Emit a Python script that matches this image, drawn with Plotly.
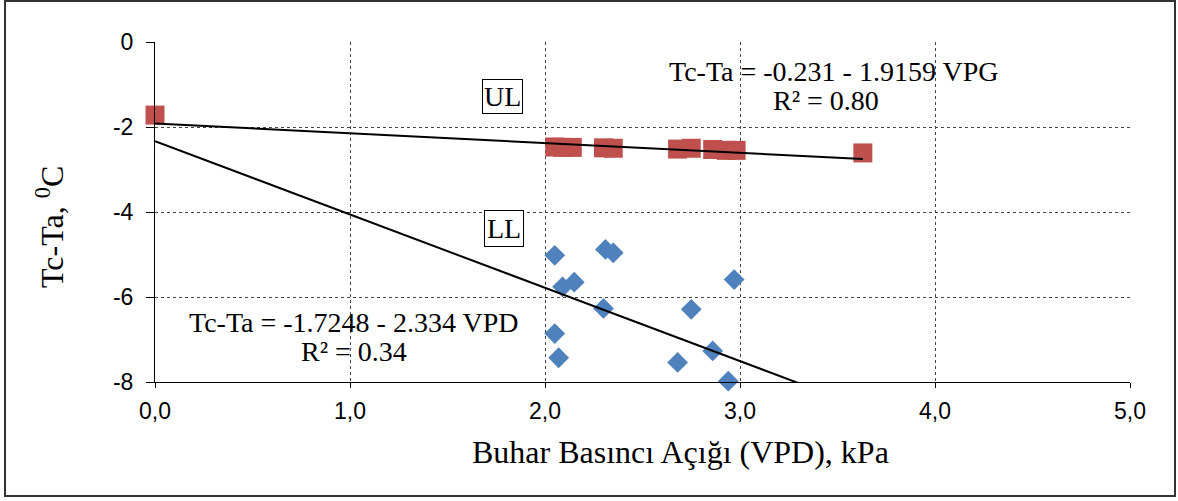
import plotly.graph_objects as go

# Upper limit (UL): canopy-air temperature difference vs vapour pressure deficit
ul_vpd = [0.0, 2.05, 2.09, 2.14, 2.30, 2.35, 2.68, 2.75, 2.86, 2.93, 2.98, 3.63]
ul_dt = [-1.72, -2.47, -2.48, -2.48, -2.49, -2.50, -2.52, -2.50, -2.53, -2.55, -2.55, -2.61]

# Lower limit (LL)
ll_vpd = [2.05, 2.31, 2.35, 2.09, 2.15, 2.97, 2.30, 2.75, 2.05, 2.07, 2.86, 2.68, 2.94]
ll_dt = [-5.02, -4.88, -4.96, -5.76, -5.65, -5.59, -6.27, -6.29, -6.86, -7.43, -7.27, -7.54, -7.98]

# Fitted lines: dT = intercept + slope * VPD
ul_intercept, ul_slope = -1.9159, -0.231
ll_intercept, ll_slope = -2.334, -1.7248
line_x = [0.0, 3.63]

ul_eq = ["Tc-Ta = -0.231 - 1.9159 VPG", "R² = 0.80"]
ll_eq = ["Tc-Ta = -1.7248 - 2.334 VPD", "R² = 0.34"]

x_ticks = [0, 1, 2, 3, 4, 5]
x_tick_text = ["0,0", "1,0", "2,0", "3,0", "4,0", "5,0"]
y_ticks = [0, -2, -4, -6, -8]
y_tick_text = ["0", "-2", "-4", "-6", "-8"]

serif = "Liberation Serif, Times New Roman, serif"
sans = "Liberation Sans, Arial, sans-serif"

fig = go.Figure()
fig.add_trace(go.Scatter(
    x=ul_vpd, y=ul_dt, mode="markers", cliponaxis=False,
    marker=dict(symbol="square", size=19, color="#C0504D",
                line=dict(width=0)),
))
fig.add_trace(go.Scatter(
    x=ll_vpd, y=ll_dt, mode="markers", cliponaxis=False,
    marker=dict(symbol="diamond", size=16, color="#4F81BD",
                line=dict(width=0)),
))
fig.add_trace(go.Scatter(
    x=line_x, y=[ul_intercept + ul_slope * v for v in line_x],
    mode="lines", line=dict(color="black", width=2),
))
fig.add_trace(go.Scatter(
    x=line_x, y=[ll_intercept + ll_slope * v for v in line_x],
    mode="lines", line=dict(color="black", width=2),
))


def label(x, y, text, **kw):
    return dict(x=x, y=y, text=text, showarrow=False,
                xanchor="center", yanchor="middle",
                font=dict(family=serif, size=28, color="#000000"), **kw)


annotations = [
    label(3.48, -0.69, ul_eq[0]),
    label(3.44, -1.37, ul_eq[1]),
    label(1.02, -6.60, ll_eq[0]),
    label(1.02, -7.28, ll_eq[1]),
    label(1.78, -1.28, "UL", bordercolor="black", borderwidth=1,
          borderpad=1, bgcolor="white"),
    label(1.79, -4.38, "LL", bordercolor="black", borderwidth=1,
          borderpad=2, bgcolor="white"),
    # axis titles
    dict(xref="paper", yref="paper", x=(680 - 155) / 975, y=(382 - 452) / 340,
         xanchor="center", yanchor="middle",
         text="Buhar Basıncı Açığı (VPD), kPa", showarrow=False,
         font=dict(family=serif, size=32, color="#000000")),
    dict(xref="paper", yref="paper", x=(50 - 155) / 975, y=(382 - 227) / 340,
         xanchor="center", yanchor="middle",
         text="Tc-Ta, <sup>0</sup>C", showarrow=False, textangle=-90,
         font=dict(family=serif, size=32, color="#000000")),
]

fig.update_layout(
    width=1178, height=501,
    margin=dict(l=155, r=48, t=42, b=119),
    paper_bgcolor="white", plot_bgcolor="white",
    showlegend=False,
    annotations=annotations,
    shapes=[dict(type="rect", xref="paper", yref="paper",
                 x0=(5 - 155) / 975, x1=(1175 - 155) / 975,
                 y0=(382 - 496) / 340, y1=(382 - 1) / 340,
                 line=dict(color="#333333", width=2))],
)
fig.update_xaxes(
    range=[0, 5], tickvals=x_ticks, ticktext=x_tick_text,
    showgrid=True, gridcolor="#444444", griddash="dot", gridwidth=1,
    showline=True, linecolor="black", linewidth=1,
    ticks="outside", ticklen=5, tickcolor="black",
    ticklabelstandoff=3,
    tickfont=dict(family=sans, size=23, color="black"),
    zeroline=False,
)
fig.update_yaxes(
    range=[-8, 0], tickvals=y_ticks, ticktext=y_tick_text,
    showgrid=True, gridcolor="#444444", griddash="dot", gridwidth=1,
    showline=True, linecolor="black", linewidth=1,
    ticks="outside", ticklen=8, tickcolor="black",
    ticklabelstandoff=8,
    tickfont=dict(family=sans, size=23, color="black"),
    zeroline=False,
)

fig.write_html("out.html")
